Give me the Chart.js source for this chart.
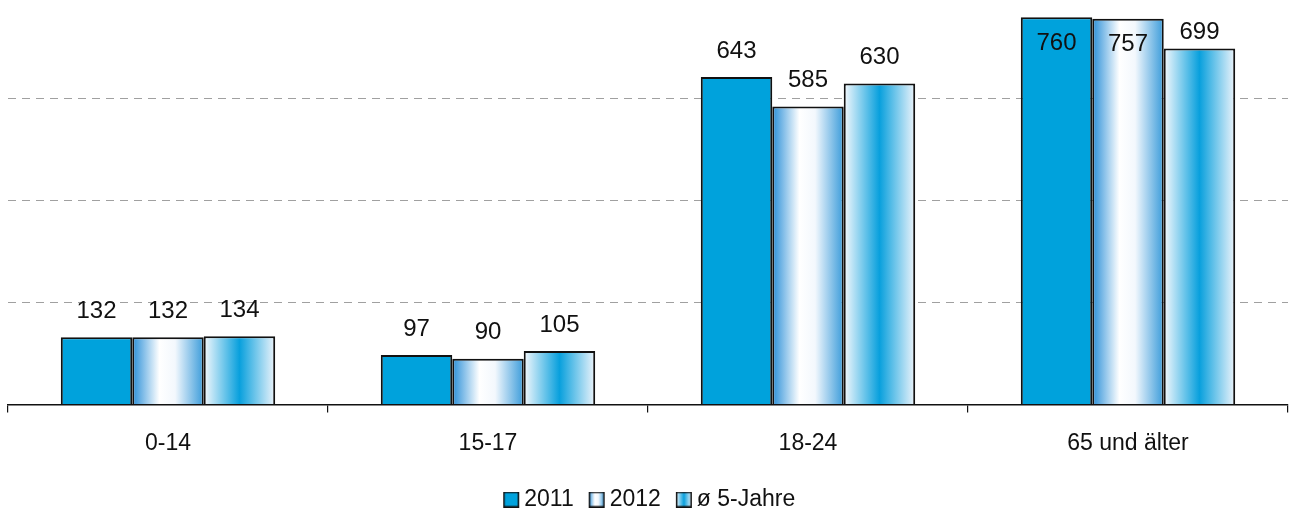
<!DOCTYPE html>
<html>
<head>
<meta charset="utf-8">
<script src="https://cdn.jsdelivr.net/npm/chart.js@4/dist/chart.umd.min.js"></script>
<style>
  html, body { margin: 0; padding: 0; background: #fff; }
  #wrap { width: 1290px; height: 511px; }
</style>
</head>
<body>
<div id="wrap"><canvas id="chart"></canvas></div>
<script>
const categories = ['0-14', '15-17', '18-24', '65 und älter']
const series2011 = [132, 97, 643, 760]
const series2012 = [132, 90, 585, 757]
const seriesAvg = [134, 105, 630, 699]
const seriesNames = ['2011', '2012', 'ø 5-Jahre']
const yTicks = [0, 200, 400, 600]
const yMax = 794

const BLUE = '#00a2dc'
const CAT_PCT = 0.67
const FONT = 'Liberation Sans, Arial, sans-serif'

// horizontal colour stops for each series
const stops = [
  null,
  [[0, '#2a8fd8'], [0.38, '#ffffff'], [0.6, '#f3f8fd'], [1, '#3a9bda']],
  [[0, '#f6f9fd'], [0.5, '#08a0dd'], [1, '#eef4fb']],
]

function makeGradient(ctx, x0, x1, st) {
  const g = ctx.createLinearGradient(x0, 0, x1, 0)
  st.forEach(([o, c]) => g.addColorStop(o, c))
  return g
}

function barFill(c) {
  const st = stops[c.datasetIndex]
  if (!st) return BLUE
  const chart = c.chart
  const x = chart.scales.x
  if (!x || !chart.chartArea) return '#ffffff'
  const w = (x.width / categories.length) * CAT_PCT / 3
  const mid = x.getPixelForValue(c.dataIndex) + (c.datasetIndex - 1) * w
  return makeGradient(chart.ctx, mid - w / 2, mid + w / 2, st)
}

// legend swatch, with empty room on the left so the gap to the text stays small
function legendIcon(i) {
  const cv = document.createElement('canvas')
  cv.width = 27
  cv.height = 16
  const g = cv.getContext('2d')
  const o = 10
  g.fillStyle = stops[i] ? makeGradient(g, o, o + 16, stops[i]) : BLUE
  g.fillRect(o, 0, 16, 16)
  g.strokeStyle = '#111'
  g.lineWidth = 1.5
  g.strokeRect(o + 0.75, 0.75, 14.5, 14.5)
  return cv
}
const icons = [0, 1, 2].map(legendIcon)

const valueLabels = {
  id: 'valueLabels',
  afterDatasetsDraw(chart) {
    const ctx = chart.ctx
    ctx.save()
    ctx.font = '24px ' + FONT
    ctx.fillStyle = '#111'
    ctx.textAlign = 'center'
    ctx.textBaseline = 'middle'
    chart.data.datasets.forEach((ds, di) => {
      chart.getDatasetMeta(di).data.forEach((bar, i) => {
        let y = Math.max(bar.y - 26, 32)
        if (y + 10 > bar.y) y = bar.y + 26
        ctx.fillText(String(ds.data[i]), bar.x, y)
      })
    })
    ctx.restore()
  }
}

const mk = (label, data) => ({
  label,
  data,
  backgroundColor: barFill,
  borderColor: '#111',
  borderWidth: 2,
  barPercentage: 1,
  categoryPercentage: CAT_PCT,
})

new Chart(document.getElementById('chart'), {
  type: 'bar',
  data: {
    labels: categories,
    datasets: [
      mk(seriesNames[0], series2011),
      mk(seriesNames[1], series2012),
      mk(seriesNames[2], seriesAvg),
    ]
  },
  options: {
    responsive: true,
    maintainAspectRatio: false,
    animation: false,
    layout: { padding: { left: 8, right: 2, top: 0, bottom: -10 } },
    scales: {
      x: {
        grid: { drawOnChartArea: false, color: '#111', tickLength: 8, lineWidth: 1.2 },
        border: { display: true, color: '#111', width: 1.5 },
        ticks: { color: '#111', font: { family: FONT, size: 23 }, padding: 17.7 },
      },
      y: {
        min: 0,
        max: yMax,
        afterBuildTicks: (s) => { s.ticks = yTicks.map(v => ({ value: v })) },
        grid: {
          drawTicks: false,
          color: (c) => c.tick && c.tick.value === 0 ? 'transparent' : '#a0a0a0',
        },
        border: { display: false, dash: [8, 6] },
        ticks: { display: false },
      }
    },
    plugins: {
      tooltip: { enabled: false },
      legend: {
        position: 'bottom',
        labels: {
          usePointStyle: true,
          boxWidth: 12,
          padding: 12.5,
          color: '#111',
          font: { family: FONT, size: 23 },
          generateLabels: (chart) => {
            const items = Chart.defaults.plugins.legend.labels.generateLabels(chart)
            items.forEach((it, i) => { it.pointStyle = icons[i] })
            return items
          }
        }
      }
    }
  },
  plugins: [valueLabels]
})
</script>
</body>
</html>
